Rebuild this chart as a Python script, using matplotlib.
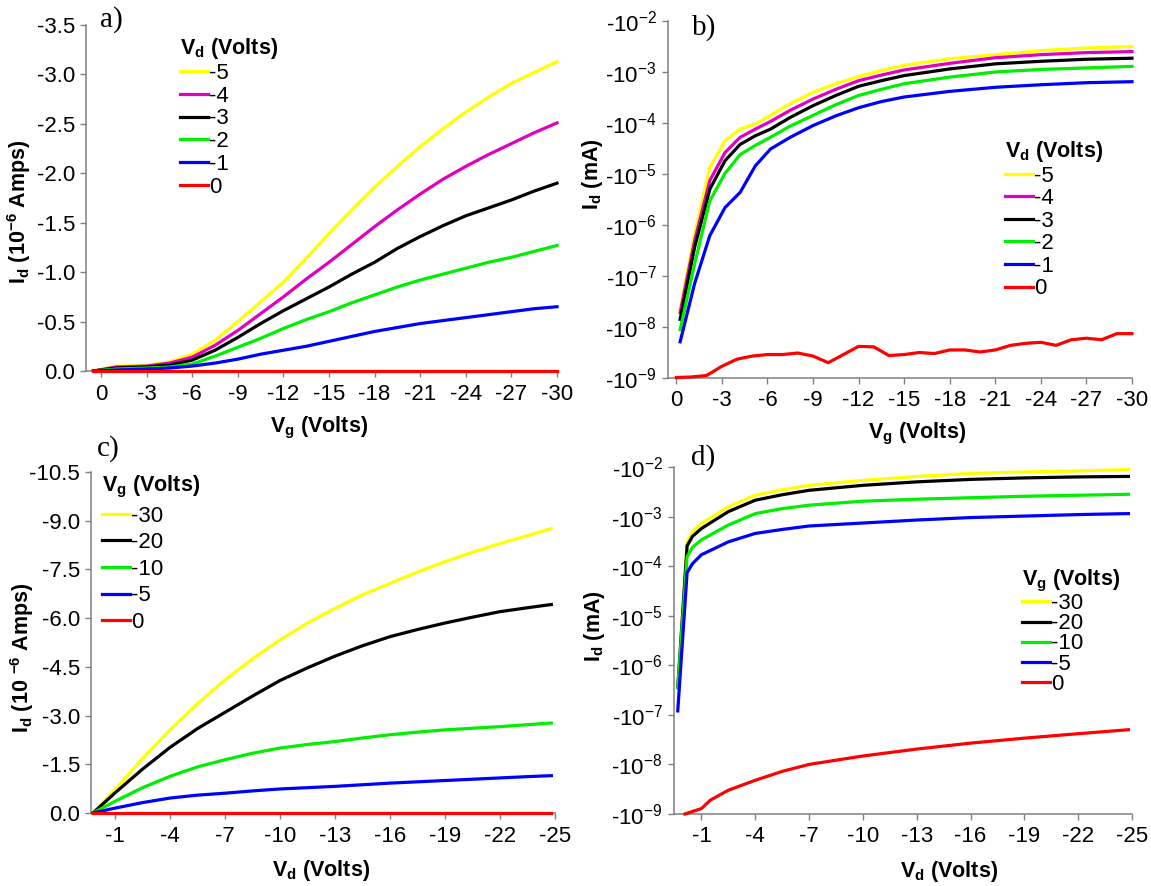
import numpy as np
import matplotlib
matplotlib.use('Agg')
import matplotlib.pyplot as plt

plt.rcParams['font.family'] = ['Liberation Sans', 'DejaVu Sans']
plt.rcParams['mathtext.fontset'] = 'custom'
plt.rcParams['mathtext.rm'] = 'Liberation Sans'
plt.rcParams['mathtext.it'] = 'Liberation Sans:italic'
plt.rcParams['mathtext.bf'] = 'Liberation Sans:bold'
plt.rcParams['axes.unicode_minus'] = False

# ---- panel a: Id vs Vg (linear), Id in 1e-6 A (magnitudes) ----
vg_a = [0.5, -1, -3, -4.5, -6, -7.5, -9, -10.5, -12, -13.5, -15, -16.5,
        -18, -19.5, -21, -22.5, -24, -25.5, -27, -28.5, -30]
id_a_m5 = [0, 0.05, 0.06, 0.09, 0.17, 0.31, 0.50, 0.70, 0.90, 1.14, 1.39,
           1.63, 1.86, 2.07, 2.27, 2.45, 2.62, 2.77, 2.91, 3.02, 3.13]
id_a_m4 = [0, 0.04, 0.05, 0.08, 0.14, 0.26, 0.41, 0.58, 0.75, 0.93, 1.10,
           1.28, 1.46, 1.63, 1.79, 1.94, 2.07, 2.19, 2.30, 2.41, 2.51]
id_a_m3 = [0, 0.03, 0.04, 0.06, 0.11, 0.21, 0.34, 0.48, 0.61, 0.73, 0.85,
           0.98, 1.10, 1.24, 1.36, 1.47, 1.57, 1.65, 1.73, 1.82, 1.90]
id_a_m2 = [0, 0.02, 0.03, 0.04, 0.07, 0.15, 0.24, 0.33, 0.43, 0.52, 0.60,
           0.69, 0.77, 0.85, 0.92, 0.98, 1.04, 1.10, 1.15, 1.21, 1.27]
id_a_m1 = [0, 0.01, 0.02, 0.03, 0.05, 0.08, 0.12, 0.17, 0.21, 0.25, 0.30,
           0.35, 0.40, 0.44, 0.48, 0.51, 0.54, 0.57, 0.60, 0.63, 0.65]
id_a_0 = [0] * 21

# ---- panel b: Id vs Vg (log), log10 of |Id| in mA ----
vg_b = [-0.25, -1.2, -2.2, -3.2, -4.2, -5.2, -6.2, -7.5, -9, -10.5, -12,
        -13.5, -15, -18, -21, -24, -27, -30]
log_b_m5 = [-7.66, -6.18, -4.87, -4.35, -4.12, -4.02, -3.85, -3.62, -3.40,
            -3.23, -3.09, -2.97, -2.87, -2.74, -2.66, -2.58, -2.53, -2.50]
log_b_m4 = [-7.72, -6.31, -5.13, -4.58, -4.28, -4.12, -3.97, -3.75, -3.53,
            -3.34, -3.17, -3.06, -2.96, -2.83, -2.72, -2.66, -2.62, -2.60]
log_b_m3 = [-7.85, -6.44, -5.30, -4.74, -4.42, -4.25, -4.12, -3.89, -3.66,
            -3.46, -3.28, -3.17, -3.07, -2.94, -2.84, -2.79, -2.75, -2.73]
log_b_m2 = [-8.05, -6.77, -5.53, -4.99, -4.62, -4.44, -4.28, -4.06, -3.85,
            -3.64, -3.46, -3.34, -3.23, -3.10, -3.00, -2.95, -2.92, -2.89]
log_b_m1 = [-8.29, -7.15, -6.21, -5.66, -5.36, -4.84, -4.51, -4.28, -4.05,
            -3.86, -3.70, -3.58, -3.49, -3.38, -3.30, -3.25, -3.21, -3.19]
vg_b0 = [0, -1, -2, -3, -4, -5, -6, -7, -8, -9, -10, -11, -12, -13, -14, -15,
         -16, -17, -18, -19, -20, -21, -22, -23, -24, -25, -26, -27, -28, -29, -30]
log_b_0 = [-8.99, -8.98, -8.95, -8.77, -8.63, -8.57, -8.54, -8.54, -8.51,
           -8.57, -8.70, -8.54, -8.38, -8.39, -8.56, -8.54, -8.50, -8.52,
           -8.45, -8.45, -8.49, -8.45, -8.36, -8.32, -8.30, -8.36, -8.25,
           -8.22, -8.25, -8.13, -8.13]

# ---- panel c: Id vs Vd (linear), Id in 1e-6 A (magnitudes) ----
vd_c = [0.2, -1, -2.5, -4, -5.5, -7, -8.5, -10, -11.5, -13, -14.5, -16,
        -17.5, -19, -20.5, -22, -23.5, -24.8]
id_c_m30 = [0, 0.72, 1.68, 2.56, 3.37, 4.10, 4.75, 5.33, 5.85, 6.30, 6.72,
            7.07, 7.42, 7.74, 8.03, 8.30, 8.54, 8.76]
id_c_m20 = [0, 0.62, 1.35, 2.02, 2.60, 3.10, 3.60, 4.08, 4.47, 4.83, 5.15,
            5.43, 5.65, 5.85, 6.03, 6.20, 6.32, 6.42]
id_c_m10 = [0, 0.36, 0.78, 1.13, 1.42, 1.64, 1.84, 2.00, 2.11, 2.20, 2.31,
            2.41, 2.49, 2.56, 2.61, 2.66, 2.72, 2.77]
id_c_m5 = [0, 0.15, 0.32, 0.46, 0.55, 0.61, 0.68, 0.74, 0.78, 0.82, 0.87,
           0.92, 0.96, 1.00, 1.04, 1.08, 1.12, 1.15]
id_c_0 = [0] * 18

# ---- panel d: Id vs Vd (log), log10 of |Id| in mA ----
vd_d = [0.32, -0.2, -0.5, -1, -2.5, -4, -5.5, -7, -10, -13, -16, -19, -22, -24.8]
log_d_m30 = [-6.45, -3.51, -3.30, -3.14, -2.80, -2.57, -2.46, -2.37, -2.27,
             -2.19, -2.13, -2.10, -2.08, -2.05]
log_d_m20 = [-6.45, -3.59, -3.40, -3.24, -2.90, -2.67, -2.56, -2.47, -2.37,
             -2.30, -2.25, -2.22, -2.20, -2.19]
log_d_m10 = [-6.45, -3.81, -3.62, -3.47, -3.17, -2.94, -2.84, -2.77, -2.69,
             -2.65, -2.62, -2.59, -2.57, -2.55]
log_d_m5 = [-6.92, -4.13, -3.95, -3.77, -3.51, -3.34, -3.26, -3.19, -3.13,
            -3.07, -3.02, -2.99, -2.96, -2.94]
vd_d0 = [-0.08, -0.5, -1, -1.5, -2.5, -4, -5.5, -7, -10, -13, -16, -19, -22, -24.8]
log_d_0 = [-9.0, -8.95, -8.89, -8.72, -8.52, -8.32, -8.14, -8.00, -7.83,
           -7.69, -7.57, -7.47, -7.38, -7.30]

vd_labels = ['-5', '-4', '-3', '-2', '-1', '0']
vg_labels = ['-30', '-20', '-10', '-5', '0']
colors6 = ['#ffff00', '#e000c0', '#000000', '#00ee00', '#0000ff', '#ff0000']
colors5 = ['#ffff00', '#000000', '#00ee00', '#0000ff', '#ff0000']

W, H = 1151, 886
fig = plt.figure(figsize=(W / 100, H / 100), dpi=100)

FS_TICK = 16
FS_LAB = 15.5
FS_LEG = 16


def px_axes(l, r, t, b):
    return fig.add_axes([l / W, 1 - b / H, (r - l) / W, (b - t) / H])


def style(ax):
    for s in ['top', 'right']:
        ax.spines[s].set_visible(False)
    for s in ['left', 'bottom']:
        ax.spines[s].set_color('#808080')
        ax.spines[s].set_linewidth(1.1)
    ax.tick_params(direction='out', length=4, width=1, color='#808080',
                   labelsize=FS_TICK, labelcolor='black')
    ax.tick_params(axis='x', pad=5)
    ax.tick_params(axis='y', pad=4)


def curve(ax, x, y, c):
    ax.plot(x, y, color=c, lw=2.3, clip_on=False, zorder=3)


def add_legend(ax, labels, colors, title, x, y, spacing):
    handles = [plt.Line2D([], [], color=c, lw=2.3) for c in colors]
    leg = ax.legend(handles, labels, title=title, loc='upper left',
                    bbox_to_anchor=(x / W, 1 - y / H),
                    bbox_transform=fig.transFigure, frameon=False,
                    fontsize=FS_LEG, title_fontsize=FS_LAB, handlelength=1.25,
                    handletextpad=0.05, labelspacing=spacing, borderpad=0,
                    borderaxespad=0, alignment='left')
    leg.get_title().set_fontweight('bold')


log_ticks = [1e-9, 1e-8, 1e-7, 1e-6, 1e-5, 1e-4, 1e-3, 1e-2]
log_labels = [r'-10$^{-%d}$' % k for k in range(9, 1, -1)]

# a)
ax = px_axes(86, 557, 25, 371)
for v, c in zip([id_a_m5, id_a_m4, id_a_m3, id_a_m2, id_a_m1, id_a_0], colors6):
    curve(ax, vg_a, -np.array(v), c)
ax.set_xlim(0.99, -30)
ax.set_ylim(0, -3.5)
ax.set_xticks([0, -3, -6, -9, -12, -15, -18, -21, -24, -27, -30])
ax.set_yticks([0, -0.5, -1, -1.5, -2, -2.5, -3, -3.5])
ax.set_yticklabels(['0.0', '-0.5', '-1.0', '-1.5', '-2.0', '-2.5', '-3.0', '-3.5'])
style(ax)
ax.set_xlabel(r'V$_\mathbf{g}$ (Volts)', fontsize=FS_LAB, fontweight='bold')
ax.set_ylabel(r'I$_\mathbf{d}$ (10$^\mathbf{-6}$ Amps)', fontsize=FS_LAB, fontweight='bold')
ax.xaxis.set_label_coords(0.494, -0.127)
ax.yaxis.set_label_coords(-0.113, 0.46)
add_legend(ax, vd_labels, colors6, r'V$_\mathbf{d}$ (Volts)', 180, 36, 0.08)

# b)
ax = px_axes(668, 1132, 21, 378)
for v, c in zip([log_b_m5, log_b_m4, log_b_m3, log_b_m2, log_b_m1], colors6[:5]):
    curve(ax, vg_b, 10 ** np.array(v), c)
curve(ax, vg_b0, 10 ** np.array(log_b_0), colors6[5])
ax.set_yscale('log')
ax.set_xlim(0.55, -30)
ax.set_ylim(1e-9, 1e-2)
ax.set_xticks([0, -3, -6, -9, -12, -15, -18, -21, -24, -27, -30])
ax.set_yticks(log_ticks)
ax.set_yticklabels(log_labels)
ax.minorticks_off()
style(ax)
ax.set_xlabel(r'V$_\mathbf{g}$ (Volts)', fontsize=FS_LAB, fontweight='bold')
ax.set_ylabel(r'I$_\mathbf{d}$ (mA)', fontsize=FS_LAB, fontweight='bold')
ax.xaxis.set_label_coords(0.537, -0.12)
ax.yaxis.set_label_coords(-0.135, 0.57)
add_legend(ax, vd_labels, colors6, r'V$_\mathbf{d}$ (Volts)', 1005, 139, 0.07)

# c)
ax = px_axes(91, 555, 472, 813)
for v, c in zip([id_c_m30, id_c_m20, id_c_m10, id_c_m5, id_c_0], colors5):
    curve(ax, vd_c, -np.array(v), c)
ax.set_xlim(0.31, -25)
ax.set_ylim(0, -10.5)
ax.set_xticks([-1, -4, -7, -10, -13, -16, -19, -22, -25])
ax.set_yticks([0, -1.5, -3, -4.5, -6, -7.5, -9, -10.5])
ax.set_yticklabels(['0.0', '-1.5', '-3.0', '-4.5', '-6.0', '-7.5', '-9.0', '-10.5'])
style(ax)
ax.set_xlabel(r'V$_\mathbf{d}$ (Volts)', fontsize=FS_LAB, fontweight='bold')
ax.set_ylabel(r'I$_\mathbf{d}$ (10 $^\mathbf{-6}$ Amps)', fontsize=FS_LAB, fontweight='bold')
ax.xaxis.set_label_coords(0.495, -0.131)
ax.yaxis.set_label_coords(-0.118, 0.455)
add_legend(ax, vg_labels, colors5, r'V$_\mathbf{g}$ (Volts)', 102, 474, 0.25)

# d)
ax = px_axes(674, 1132, 467, 814)
for v, c in zip([log_d_m30, log_d_m20, log_d_m10, log_d_m5], colors5[:4]):
    curve(ax, vd_d, 10 ** np.array(v), c)
curve(ax, vd_d0, 10 ** np.array(log_d_0), colors5[4])
ax.set_yscale('log')
ax.set_xlim(0.53, -25)
ax.set_ylim(1e-9, 1e-2)
ax.set_xticks([-1, -4, -7, -10, -13, -16, -19, -22, -25])
ax.set_yticks(log_ticks)
ax.set_yticklabels(log_labels)
ax.minorticks_off()
style(ax)
ax.set_xlabel(r'V$_\mathbf{d}$ (Volts)', fontsize=FS_LAB, fontweight='bold')
ax.set_ylabel(r'I$_\mathbf{d}$ (mA)', fontsize=FS_LAB, fontweight='bold')
ax.xaxis.set_label_coords(0.60, -0.13)
ax.yaxis.set_label_coords(-0.146, 0.54)
add_legend(ax, vg_labels, colors5, r'V$_\mathbf{g}$ (Volts)', 1022, 568, -0.04)

# panel letters
for s, x, y in [('a)', 111, 20), ('b)', 704, 28), ('c)', 108, 449), ('d)', 703, 458)]:
    fig.text(x / W, 1 - y / H, s, fontsize=21, family='Liberation Serif',
             ha='center', va='center')

fig.savefig('out.png', dpi=100)
